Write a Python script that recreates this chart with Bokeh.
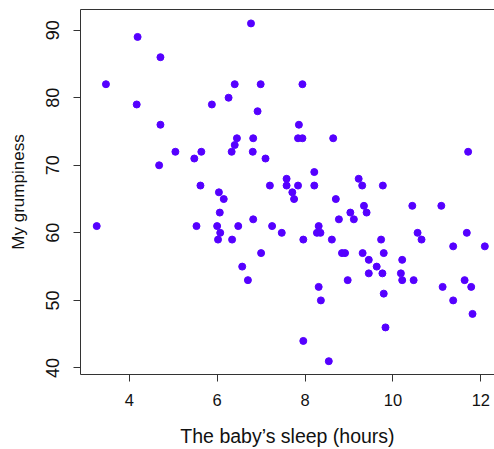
from bokeh.plotting import figure
from bokeh.models import FixedTicker, LinearAxis
from bokeh.embed import file_html
from bokeh.resources import INLINE

# The baby's sleep (hours) and my grumpiness
baby_sleep = [4.19, 4.71, 3.47, 4.17, 5.88, 4.71, 6.77, 6.40, 6.99, 7.94,
              6.26, 6.92, 7.86, 6.45, 6.82, 7.84, 7.94, 8.64, 5.05, 5.64,
              5.48, 4.68, 5.62, 3.26, 5.53, 6.40, 6.33, 6.81, 7.10, 8.21,
              7.58, 7.20, 7.58, 7.84, 8.21, 7.71, 6.04, 7.75, 6.15, 8.70,
              6.06, 6.82, 8.77, 6.00, 6.07, 6.48, 7.25, 7.47, 8.31, 8.27,
              8.35, 6.02, 6.34, 7.96, 8.61, 7.00, 8.84, 11.71, 9.22, 9.30,
              9.77, 10.44, 11.10, 9.34, 9.03, 9.40, 9.11, 10.56, 10.65, 9.73,
              11.68, 11.37, 12.09, 8.91, 9.31, 9.79, 9.45, 10.21, 9.63, 9.45,
              9.76, 10.18, 8.97, 10.21, 10.47, 11.13, 11.63, 11.78, 11.37, 9.79,
              11.81, 9.83, 6.57, 6.70, 8.31, 8.36, 7.96, 8.54]
grumpiness = [89, 86, 82, 79, 79, 76, 91, 82, 82, 82,
              80, 78, 76, 74, 74, 74, 74, 74, 72, 72,
              71, 70, 67, 61, 61, 73, 72, 72, 71, 69,
              68, 67, 67, 67, 67, 66, 66, 65, 65, 65,
              63, 62, 62, 61, 60, 61, 61, 60, 61, 60,
              60, 59, 59, 59, 59, 57, 57, 72, 68, 67,
              67, 64, 64, 64, 63, 63, 62, 60, 59, 59,
              60, 58, 58, 57, 57, 57, 56, 56, 55, 54,
              54, 54, 53, 53, 53, 52, 53, 52, 50, 51,
              48, 46, 55, 53, 52, 50, 44, 41]

x_ticks = [4, 6, 8, 10, 12]
y_ticks = [40, 50, 60, 70, 80, 90]

FONT = "Liberation Sans"

p = figure(width=494, height=449, x_range=(2.891, 12.31), y_range=(39.03, 93.06),
           output_backend="svg", toolbar_location=None,
           min_border_left=80, min_border_right=0, min_border_top=9,
           min_border_bottom=74)

p.scatter(baby_sleep, grumpiness, size=7, color="#5500ff", line_color="#5500ff")

p.grid.visible = False
p.outline_line_color = None
p.background_fill_color = "white"
p.border_fill_color = "white"

xa = p.below[0]
ya = p.left[0]
xa.ticker = FixedTicker(ticks=x_ticks)
ya.ticker = FixedTicker(ticks=y_ticks)

# top edge of the box (the right edge lies outside the picture)
top = LinearAxis(ticker=FixedTicker(ticks=[]), axis_line_color="#333333",
                 major_tick_line_color=None, minor_tick_line_color=None,
                 major_tick_out=0, major_tick_in=0, major_label_standoff=0)
p.add_layout(top, "above")

for ax in (xa, ya):
    ax.axis_line_color = "#333333"
    ax.major_tick_line_color = "#333333"
    ax.major_tick_out = 7
    ax.major_tick_in = 0
    ax.minor_tick_line_color = None
    ax.major_label_text_font = FONT
    ax.axis_label_text_font = FONT
    ax.major_label_text_color = "#111111"
    ax.axis_label_text_color = "#111111"
    ax.axis_label_text_font_style = "normal"

xa.major_label_text_font_size = "16.5px"
xa.major_label_standoff = 12
xa.axis_label = "The baby\u2019s sleep (hours)"
xa.axis_label_text_font_size = "19.5px"
xa.axis_label_standoff = 16

ya.major_label_text_font_size = "18px"
ya.major_label_orientation = "parallel"
ya.major_label_standoff = 14
ya.axis_label = "My grumpiness"
ya.axis_label_text_font_size = "17px"
ya.axis_label_standoff = 16

open("out.html", "w").write(file_html(p, INLINE))
